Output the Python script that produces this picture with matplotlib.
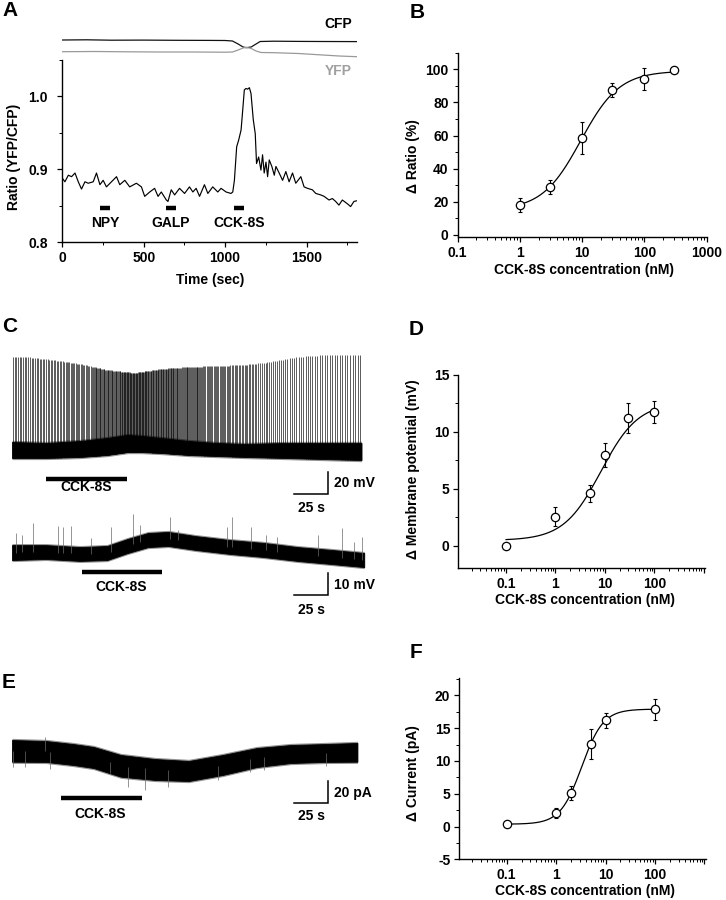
import numpy as np
import matplotlib
matplotlib.use("Agg")
import matplotlib.pyplot as plt
from matplotlib.ticker import MultipleLocator, FixedLocator, FixedFormatter, NullFormatter, LogLocator

plt.rcParams['font.family'] = ['Liberation Sans', 'DejaVu Sans']
plt.rcParams['font.weight'] = 'bold'
plt.rcParams['axes.labelweight'] = 'bold'
plt.rcParams['font.size'] = 10
plt.rcParams['axes.unicode_minus'] = False

# ====================== DATA ======================
# ---- Panel A : FRET ratio trace ----
ratio_time = [0, 16, 37, 57, 78, 98, 118, 139, 159, 190,
              210, 231, 251, 271, 302, 333, 353, 384, 414, 455,
              486, 506, 537, 567, 588, 608, 639, 649, 669, 690,
              720, 751, 781, 802, 822, 843, 873, 894, 924, 955,
              975, 1006, 1036, 1047, 1057, 1071, 1083, 1098, 1108, 1118,
              1128, 1138, 1149, 1159, 1173, 1185, 1193, 1206, 1220, 1230,
              1240, 1251, 1261, 1271, 1287, 1302, 1312, 1332, 1353, 1373,
              1393, 1414, 1434, 1465, 1485, 1506, 1536, 1557, 1587, 1608,
              1638, 1659, 1679, 1699, 1720, 1750, 1771, 1791, 1810]
ratio_value = [0.888, 0.883, 0.892, 0.890, 0.895, 0.883, 0.873, 0.883, 0.881, 0.883,
               0.895, 0.879, 0.885, 0.876, 0.883, 0.890, 0.879, 0.885, 0.876, 0.881,
               0.876, 0.863, 0.869, 0.874, 0.863, 0.869, 0.858, 0.856, 0.872, 0.865,
               0.874, 0.867, 0.876, 0.869, 0.874, 0.863, 0.879, 0.867, 0.876, 0.869,
               0.874, 0.869, 0.867, 0.869, 0.885, 0.931, 0.940, 0.954, 0.981, 1.009,
               1.011, 1.010, 1.012, 1.004, 0.968, 0.949, 0.908, 0.917, 0.899, 0.920,
               0.895, 0.910, 0.890, 0.913, 0.904, 0.892, 0.904, 0.895, 0.885, 0.897,
               0.883, 0.895, 0.881, 0.890, 0.876, 0.874, 0.872, 0.867, 0.865, 0.863,
               0.858, 0.860, 0.856, 0.851, 0.858, 0.853, 0.849, 0.856, 0.857]
cfp_time = [0, 150, 300, 500, 700, 900, 1000, 1045, 1080, 1110, 1130, 1160, 1190, 1215, 1300, 1450, 1600, 1810]
cfp_value = [22.0, 22.2, 21.8, 21.9, 21.7, 21.6, 21.5, 21.0, 18.0, 15.0, 14.3, 15.0, 18.0, 20.5, 20.8, 20.6, 20.5, 20.4]
yfp_time = [0, 200, 400, 600, 800, 1000, 1045, 1080, 1110, 1130, 1160, 1190, 1220, 1300, 1450, 1600, 1700, 1810]
yfp_value = [10.3, 10.5, 10.2, 10.0, 10.0, 9.8, 10.0, 12.0, 14.0, 14.7, 13.5, 11.0, 9.5, 9.3, 8.5, 7.0, 6.0, 5.3]
a_drug_labels = ['NPY', 'GALP', 'CCK-8S']
a_drug_start = [231, 634, 1057]
a_drug_end = [292, 696, 1118]
a_xticks = [0, 500, 1000, 1500]
a_yticks = [0.8, 0.9, 1.0]
a_yticklabels = ['0.8', '0.9', '1.0']

# ---- Panel B : dose response (ratio) ----
b_conc = [1, 3, 10, 30, 100, 300]
b_mean = [18.1, 28.8, 58.4, 87.5, 94.2, 99.8]
b_sem = [4.3, 4.2, 9.5, 4.0, 6.7, 0.0]
b_fit = [15.0, 99.0, 9.5, 1.4]          # bottom, top, EC50 (nM), Hill slope
b_xticks = [0.1, 1, 10, 100, 1000]
b_xticklabels = ['0.1', '1', '10', '100', '1000']
b_yticks = [0, 20, 40, 60, 80, 100]

# ---- Panel C : current-clamp traces ----
# top trace: baseline noise band (mV) and firing (spikes per 20-s bin, peak mV at bin centre)
ct_band_t = [0, 25, 50, 70, 85, 95, 110, 130, 150, 171, 200, 230, 257]
ct_band_hi = [10.0, 9.1, 10.9, 13.6, 16.4, 15.5, 13.6, 10.9, 9.1, 8.2, 9.1, 9.1, 9.1]
ct_band_lo = [-4.5, -4.5, -3.6, -1.8, 0.9, 0.9, 0.0, -1.8, -2.7, -3.6, -4.5, -5.5, -6.4]
ct_bin_start = [0, 20, 40, 60, 80, 100, 120, 140, 160, 180, 200, 220, 240]
ct_bin_end = [20, 40, 60, 80, 100, 120, 140, 160, 180, 200, 220, 240, 257]
ct_spike_count = [16, 18, 22, 34, 45, 38, 30, 23, 19, 14, 12, 11, 9]
ct_spike_peak = [87.3, 84.5, 80.9, 75.5, 72.7, 76.4, 78.2, 79.1, 80.0, 82.7, 87.3, 89.1, 89.1]
ct_drug = [24.8, 84.3]
# bottom trace: noise band and spontaneous events (mV)
cb_band_t = [0, 25, 50, 70, 85, 100, 115, 135, 160, 185, 210, 235, 259]
cb_band_hi = [4.5, 4.5, 3.6, 4.1, 7.3, 10.0, 10.5, 8.6, 6.8, 5.5, 3.6, 2.3, 0.9]
cb_band_lo = [-2.3, -1.8, -2.7, -2.3, 0.9, 3.6, 4.1, 2.3, 0.5, -0.9, -2.7, -4.1, -5.5]
cb_spike_t = [2.9, 7.1, 15.4, 33.8, 37.3, 43.4, 58.1, 72.8, 89.0, 94.1, 116.2, 122.0,
              157.9, 161.5, 175.7, 186.8, 194.6, 225.0, 242.4, 251.5, 257.0]
cb_spike_peak = [10.0, 9.1, 14.7, 13.2, 12.9, 13.2, 7.7, 12.7, 18.6, 13.6, 17.4, 11.4,
                 12.9, 17.4, 12.9, 9.1, 8.3, 9.1, 12.3, 6.0, 8.3]
cb_drug = [51.3, 110.5]

# ---- Panel D : dose response (membrane potential) ----
d_conc = [0.1, 1, 5, 10, 30, 100]
d_mean = [0.0, 2.53, 4.6, 8.0, 11.2, 11.75]
d_sem = [0.0, 0.85, 0.75, 1.05, 1.3, 0.95]
d_fit = [0.45, 12.6, 8.3, 1.15]
d_yticks = [0, 5, 10, 15]

# ---- Panel E : voltage-clamp trace (pA) ----
e_band_t = [0, 25, 45, 60, 80, 105, 130, 155, 180, 205, 230, 254]
e_band_hi = [9.2, 8.3, 5.5, 2.8, -4.6, -8.3, -10.1, -4.6, 1.8, 4.6, 5.5, 6.5]
e_band_lo = [-10.8, -11.0, -13.8, -16.6, -24.6, -27.6, -28.6, -23.0, -15.7, -12.0, -11.0, -10.8]
e_spike_t = [1, 9.6, 24.3, 27.9, 72, 85.5, 97.8, 115, 151.7, 175, 185, 231]
e_spike_tip = [-15.4, -15.5, 12.3, -17.5, -21.0, -33.8, -36.9, -33.8, -28.0, -20.0, -18.0, -14.5]
e_drug = [36.0, 95.6]

# ---- Panel F : dose response (current) ----
f_conc = [0.1, 1, 2, 5, 10, 100]
f_mean = [0.35, 2.0, 5.1, 12.6, 16.2, 17.9]
f_sem = [0.3, 0.75, 1.05, 2.25, 1.15, 1.6]
f_fit = [0.35, 17.9, 3.3, 2.0]
f_yticks = [-5, 0, 5, 10, 15, 20]

dr_xticks = [0.01, 0.1, 1, 10, 100, 1000]
dr_xticklabels = ['', '0.1', '1', '10', '100', '']

# ====================== FIGURE ======================
W, H = 726, 900
fig = plt.figure(figsize=(W / 100, H / 100), dpi=100)


def px_axes(x0, y0, x1, y1):
    return fig.add_axes([x0 / W, 1 - y1 / H, (x1 - x0) / W, (y1 - y0) / H])


def ftext(px, py, s, **kw):
    fig.text(px / W, 1 - py / H, s, **kw)


def style(ax, ypad=3.0):
    for s in ['top', 'right']:
        ax.spines[s].set_visible(False)
    for s in ['left', 'bottom']:
        ax.spines[s].set_linewidth(1.0)
    ax.tick_params(which='major', direction='out', length=3.5, width=0.9, labelsize=10)
    ax.tick_params(which='minor', direction='out', length=2, width=0.7)
    ax.tick_params(axis='y', which='major', pad=ypad)
    ax.tick_params(axis='x', which='major', pad=3)


def hill(x, p):
    bottom, top, ec50, n = p
    return bottom + (top - bottom) / (1 + (ec50 / x) ** n)


# ---------------- Panel A ----------------
axA = px_axes(62.3, 60, 357, 242.3)
axA.plot(ratio_time, ratio_value, color='black', lw=0.85)
for t0, t1, lab in zip(a_drug_start, a_drug_end, a_drug_labels):
    axA.plot([t0, t1], [0.8466, 0.8466], color='black', lw=3.2, solid_capstyle='butt')
    axA.text((t0 + t1) / 2, 0.827, lab, ha='center', va='center', fontsize=10, fontweight='bold')
axA.set_xlim(0, 1810)
axA.set_ylim(0.8, 1.05)
axA.xaxis.set_major_locator(FixedLocator(a_xticks))
axA.xaxis.set_minor_locator(MultipleLocator(250))
axA.yaxis.set_major_locator(FixedLocator(a_yticks))
axA.yaxis.set_major_formatter(FixedFormatter(a_yticklabels))
axA.yaxis.set_minor_locator(MultipleLocator(0.05))
style(axA, ypad=7)
ftext(210, 280, 'Time (sec)', ha='center', va='center', fontsize=10)
ftext(14, 157, 'Ratio (YFP/CFP)', ha='center', va='center', rotation=90, fontsize=10)

axA2 = px_axes(62.3, 30, 357, 62)
axA2.plot(cfp_time, cfp_value, color='#111111', lw=0.9)
axA2.plot(yfp_time, yfp_value, color='#999999', lw=0.9)
axA2.set_xlim(0, 1810)
axA2.set_ylim(0, 32)
axA2.axis('off')
ftext(352, 24, 'CFP', ha='right', va='center', fontsize=10)
ftext(352, 71, 'YFP', ha='right', va='center', fontsize=10, color='#a0a0a0')


# ---------------- dose-response helper ----------------
def dose_panel(ax, conc, mean, sem, fit, xlim, ylim):
    xs = np.logspace(np.log10(min(conc)), np.log10(max(conc)), 300)
    ax.plot(xs, hill(xs, fit), color='black', lw=0.9, zorder=2)
    ax.errorbar(conc, mean, yerr=sem, fmt='none', ecolor='black', elinewidth=0.8,
                capsize=1.6, capthick=0.8, zorder=3)
    ax.plot(conc, mean, 'o', ms=6, mfc='white', mec='black', mew=0.9, zorder=4)
    ax.set_xscale('log')
    ax.set_xlim(*xlim)
    ax.set_ylim(*ylim)
    ax.xaxis.set_minor_locator(LogLocator(base=10, subs=np.arange(2, 10)))
    ax.xaxis.set_minor_formatter(NullFormatter())
    style(ax)


# ---------------- Panel B ----------------
axB = px_axes(457.7, 52.7, 706.7, 237.3)
dose_panel(axB, b_conc, b_mean, b_sem, b_fit, (0.1, 1000), (-1.4, 110))
axB.xaxis.set_major_locator(FixedLocator(b_xticks))
axB.xaxis.set_major_formatter(FixedFormatter(b_xticklabels))
axB.yaxis.set_major_locator(FixedLocator(b_yticks))
axB.yaxis.set_minor_locator(MultipleLocator(10))
ftext(584, 270, 'CCK-8S concentration (nM)', ha='center', va='center', fontsize=10)
ftext(413, 156, '\u0394 Ratio (%)', ha='center', va='center', rotation=90, fontsize=10)

# ---------------- Panel D ----------------
axD = px_axes(458.3, 375, 705, 568.3)
dose_panel(axD, d_conc, d_mean, d_sem, d_fit, (0.0108, 1060), (-2, 15))
axD.xaxis.set_major_locator(FixedLocator(dr_xticks))
axD.xaxis.set_major_formatter(FixedFormatter(dr_xticklabels))
axD.yaxis.set_major_locator(FixedLocator(d_yticks))
axD.yaxis.set_minor_locator(MultipleLocator(2.5))
ftext(585, 600, 'CCK-8S concentration (nM)', ha='center', va='center', fontsize=10)
ftext(413, 469, '\u0394 Membrane potential (mV)', ha='center', va='center', rotation=90, fontsize=10)

# ---------------- Panel F ----------------
axF = px_axes(459.3, 678.3, 706, 859.3)
dose_panel(axF, f_conc, f_mean, f_sem, f_fit, (0.011, 1077), (-5, 22.6))
axF.xaxis.set_major_locator(FixedLocator(dr_xticks))
axF.xaxis.set_major_formatter(FixedFormatter(dr_xticklabels))
axF.yaxis.set_major_locator(FixedLocator(f_yticks))
axF.yaxis.set_minor_locator(MultipleLocator(2.5))
ftext(585, 891, 'CCK-8S concentration (nM)', ha='center', va='center', fontsize=10)
ftext(413, 773, '\u0394 Current (pA)', ha='center', va='center', rotation=90, fontsize=10)


# ---------------- trace helpers ----------------
def trace_axes(x0, y0, x1, y1, px_per_s, px_per_unit, zero_py):
    ax = px_axes(x0, y0, x1, y1)
    ax.set_xlim(0, (x1 - x0) / px_per_s)
    ax.set_ylim((zero_py - y1) / px_per_unit, (zero_py - y0) / px_per_unit)
    ax.axis('off')
    return ax


def noisy_band(ax, t, lo, hi, fringe):
    lo = np.asarray(lo)
    hi = np.asarray(hi)
    ax.fill_between(t, lo - fringe, hi + fringe, color='#3a3a3a', lw=0, alpha=0.55)
    ax.fill_between(t, lo, hi, color='black', lw=0.6, edgecolor='black')


def scale_bar(ax, t_right, y_bottom, dt, dy, ylab, ylab_y, tlab_y):
    ax.plot([t_right - dt, t_right, t_right], [y_bottom, y_bottom, y_bottom + dy],
            color='black', lw=1.1, solid_joinstyle='miter', clip_on=False)
    ax.text(t_right + 4, ylab_y, ylab, ha='left', va='center', fontsize=10, clip_on=False)
    ax.text(t_right - dt / 2 + 0.5, tlab_y, f'{dt} s', ha='center', va='center', fontsize=10,
            clip_on=False)


def drug_bar(ax, t0, t1, y, label, lab_t, lab_y):
    ax.plot([t0, t1], [y, y], color='black', lw=3.2, solid_capstyle='butt')
    ax.text(lab_t, lab_y, label, ha='center', va='center', fontsize=10)


PX_PER_S = 1.36

# ---------------- Panel C (top) ----------------
axC1 = trace_axes(12, 340, 370, 515, PX_PER_S, 1.1, 453)
bin_centre = (np.array(ct_bin_start) + np.array(ct_bin_end)) / 2
for b0, b1, n in zip(ct_bin_start, ct_bin_end, ct_spike_count):
    st = b0 + (np.arange(n) + 0.5) * (b1 - b0) / n
    base = np.interp(st, ct_band_t, ct_band_lo)
    peak = np.interp(st, bin_centre, ct_spike_peak)
    axC1.vlines(st, base, peak, color='black', lw=0.45)
noisy_band(axC1, ct_band_t, ct_band_lo, ct_band_hi, 1.5)
drug_bar(axC1, ct_drug[0], ct_drug[1], -23.4, 'CCK-8S', sum(ct_drug) / 2, -30.9)
scale_bar(axC1, 232.4, -37.3, 25, 20, '20 mV', -27.3, -50)

# ---------------- Panel C (bottom) ----------------
axC2 = trace_axes(12, 505, 370, 620, PX_PER_S, 2.2, 555)
cb_mid = (np.array(cb_band_hi) + np.array(cb_band_lo)) / 2
axC2.vlines(cb_spike_t, np.interp(cb_spike_t, cb_band_t, cb_mid), cb_spike_peak,
            color='#6a6a6a', lw=0.5)
noisy_band(axC2, cb_band_t, cb_band_lo, cb_band_hi, 0.7)
drug_bar(axC2, cb_drug[0], cb_drug[1], -7.7, 'CCK-8S', 80, -14.5)
scale_bar(axC2, 232.4, -18.2, 25, 10, '10 mV', -13.6, -25)

# ---------------- Panel E ----------------
axE = trace_axes(12, 700, 370, 830, PX_PER_S, 1.085, 750)
e_mid = (np.array(e_band_hi) + np.array(e_band_lo)) / 2
axE.vlines(e_spike_t, np.interp(e_spike_t, e_band_t, e_mid), e_spike_tip,
           color='#6a6a6a', lw=0.5)
noisy_band(axE, e_band_t, e_band_lo, e_band_hi, 1.5)
drug_bar(axE, e_drug[0], e_drug[1], -44.2, 'CCK-8S', 64.7, -59)
scale_bar(axE, 232.4, -48.6, 25, 20, '20 pA', -39.4, -60.8)

# ---------------- panel letters ----------------
for lab, px, py in [('A', 10, 11), ('B', 417, 12), ('C', 10, 326),
                    ('D', 416, 329), ('E', 9, 682), ('F', 416, 653)]:
    ftext(px, py, lab, ha='center', va='center', fontsize=15, fontweight='bold')

fig.savefig('out.png', dpi=100)
